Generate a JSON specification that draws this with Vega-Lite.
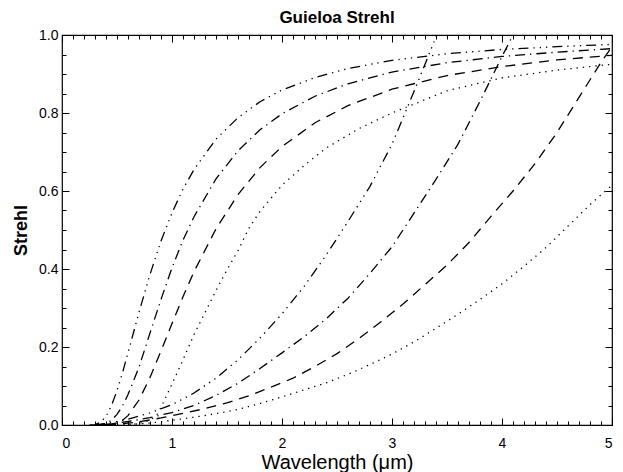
{
  "$schema": "https://vega.github.io/schema/vega-lite/v6.json",
  "width": 550,
  "height": 390,
  "autosize": {"type": "none"},
  "padding": {"left": 62, "top": 35, "right": 11, "bottom": 47},
  "background": "white",
  "title": {"text": "Guieloa Strehl", "font": "Liberation Sans", "fontSize": 17, "fontWeight": "bold", "color": "black", "offset": 1, "anchor": "middle"},
  "config": {"view": {"stroke": "black", "strokeWidth": 1.2}},
  "datasets": {
    "curves": [
      {"c":"A1","x":0.25,"y":0},{"c":"A1","x":0.3,"y":0.001},{"c":"A1","x":0.35,"y":0.007},{"c":"A1","x":0.4,"y":0.022},{"c":"A1","x":0.45,"y":0.05},{"c":"A1","x":0.5,"y":0.088},{"c":"A1","x":0.55,"y":0.134},{"c":"A1","x":0.6,"y":0.185},{"c":"A1","x":0.7,"y":0.289},{"c":"A1","x":0.8,"y":0.386},{"c":"A1","x":0.9,"y":0.472},{"c":"A1","x":1.0,"y":0.544},{"c":"A1","x":1.1,"y":0.605},{"c":"A1","x":1.2,"y":0.655},{"c":"A1","x":1.4,"y":0.733},{"c":"A1","x":1.6,"y":0.788},{"c":"A1","x":1.8,"y":0.829},{"c":"A1","x":2.0,"y":0.859},{"c":"A1","x":2.3,"y":0.891},{"c":"A1","x":2.6,"y":0.914},{"c":"A1","x":3.0,"y":0.935},{"c":"A1","x":3.5,"y":0.952},{"c":"A1","x":4.0,"y":0.963},{"c":"A1","x":4.5,"y":0.97},{"c":"A1","x":5.0,"y":0.976},
      {"c":"A2","x":0.3,"y":0},{"c":"A2","x":0.35,"y":0.001},{"c":"A2","x":0.4,"y":0.004},{"c":"A2","x":0.45,"y":0.012},{"c":"A2","x":0.5,"y":0.027},{"c":"A2","x":0.55,"y":0.049},{"c":"A2","x":0.6,"y":0.078},{"c":"A2","x":0.7,"y":0.148},{"c":"A2","x":0.8,"y":0.236},{"c":"A2","x":0.9,"y":0.322},{"c":"A2","x":1.0,"y":0.403},{"c":"A2","x":1.1,"y":0.474},{"c":"A2","x":1.2,"y":0.534},{"c":"A2","x":1.4,"y":0.631},{"c":"A2","x":1.6,"y":0.703},{"c":"A2","x":1.8,"y":0.757},{"c":"A2","x":2.0,"y":0.798},{"c":"A2","x":2.3,"y":0.843},{"c":"A2","x":2.6,"y":0.875},{"c":"A2","x":3.0,"y":0.905},{"c":"A2","x":3.5,"y":0.929},{"c":"A2","x":4.0,"y":0.945},{"c":"A2","x":4.5,"y":0.956},{"c":"A2","x":5.0,"y":0.965},
      {"c":"A3","x":0.4,"y":0},{"c":"A3","x":0.5,"y":0.005},{"c":"A3","x":0.55,"y":0.012},{"c":"A3","x":0.6,"y":0.024},{"c":"A3","x":0.7,"y":0.064},{"c":"A3","x":0.8,"y":0.122},{"c":"A3","x":0.9,"y":0.19},{"c":"A3","x":1.0,"y":0.26},{"c":"A3","x":1.1,"y":0.329},{"c":"A3","x":1.2,"y":0.393},{"c":"A3","x":1.4,"y":0.503},{"c":"A3","x":1.6,"y":0.591},{"c":"A3","x":1.8,"y":0.66},{"c":"A3","x":2.0,"y":0.714},{"c":"A3","x":2.3,"y":0.775},{"c":"A3","x":2.6,"y":0.819},{"c":"A3","x":3.0,"y":0.861},{"c":"A3","x":3.5,"y":0.896},{"c":"A3","x":4.0,"y":0.919},{"c":"A3","x":4.5,"y":0.936},{"c":"A3","x":5.0,"y":0.948},
      {"c":"A4","x":0.6,"y":0},{"c":"A4","x":0.7,"y":0.004},{"c":"A4","x":0.8,"y":0.012},{"c":"A4","x":0.86,"y":0.025},{"c":"A4","x":0.9,"y":0.045},{"c":"A4","x":1.0,"y":0.105},{"c":"A4","x":1.1,"y":0.167},{"c":"A4","x":1.2,"y":0.232},{"c":"A4","x":1.3,"y":0.288},{"c":"A4","x":1.4,"y":0.345},{"c":"A4","x":1.5,"y":0.398},{"c":"A4","x":1.6,"y":0.447},{"c":"A4","x":1.7,"y":0.505},{"c":"A4","x":1.8,"y":0.548},{"c":"A4","x":2.0,"y":0.615},{"c":"A4","x":2.2,"y":0.665},{"c":"A4","x":2.4,"y":0.71},{"c":"A4","x":2.7,"y":0.76},{"c":"A4","x":3.0,"y":0.8},{"c":"A4","x":3.5,"y":0.857},{"c":"A4","x":4.0,"y":0.89},{"c":"A4","x":4.5,"y":0.91},{"c":"A4","x":5.0,"y":0.925},
      {"c":"B1","x":0.3,"y":0},{"c":"B1","x":0.4,"y":0.004},{"c":"B1","x":0.5,"y":0.009},{"c":"B1","x":0.6,"y":0.015},{"c":"B1","x":0.8,"y":0.031},{"c":"B1","x":1.0,"y":0.052},{"c":"B1","x":1.2,"y":0.082},{"c":"B1","x":1.4,"y":0.12},{"c":"B1","x":1.6,"y":0.167},{"c":"B1","x":1.8,"y":0.223},{"c":"B1","x":2.0,"y":0.285},{"c":"B1","x":2.2,"y":0.355},{"c":"B1","x":2.4,"y":0.435},{"c":"B1","x":2.6,"y":0.522},{"c":"B1","x":2.8,"y":0.612},{"c":"B1","x":3.0,"y":0.72},{"c":"B1","x":3.2,"y":0.855},{"c":"B1","x":3.4,"y":0.995},{"c":"B1","x":3.5,"y":1.07},
      {"c":"B2","x":0.35,"y":0},{"c":"B2","x":0.45,"y":0.003},{"c":"B2","x":0.6,"y":0.009},{"c":"B2","x":0.8,"y":0.019},{"c":"B2","x":1.0,"y":0.032},{"c":"B2","x":1.2,"y":0.05},{"c":"B2","x":1.4,"y":0.076},{"c":"B2","x":1.6,"y":0.107},{"c":"B2","x":1.8,"y":0.145},{"c":"B2","x":2.0,"y":0.185},{"c":"B2","x":2.2,"y":0.226},{"c":"B2","x":2.4,"y":0.272},{"c":"B2","x":2.6,"y":0.325},{"c":"B2","x":2.8,"y":0.389},{"c":"B2","x":3.0,"y":0.457},{"c":"B2","x":3.2,"y":0.543},{"c":"B2","x":3.4,"y":0.63},{"c":"B2","x":3.6,"y":0.72},{"c":"B2","x":3.8,"y":0.83},{"c":"B2","x":4.0,"y":0.945},{"c":"B2","x":4.1,"y":1.0},{"c":"B2","x":4.2,"y":1.06},
      {"c":"B3","x":0.4,"y":0},{"c":"B3","x":0.5,"y":0.002},{"c":"B3","x":0.7,"y":0.008},{"c":"B3","x":0.9,"y":0.018},{"c":"B3","x":1.1,"y":0.03},{"c":"B3","x":1.3,"y":0.042},{"c":"B3","x":1.5,"y":0.057},{"c":"B3","x":1.7,"y":0.075},{"c":"B3","x":1.9,"y":0.097},{"c":"B3","x":2.1,"y":0.12},{"c":"B3","x":2.3,"y":0.15},{"c":"B3","x":2.5,"y":0.183},{"c":"B3","x":2.7,"y":0.222},{"c":"B3","x":2.9,"y":0.265},{"c":"B3","x":3.1,"y":0.31},{"c":"B3","x":3.3,"y":0.36},{"c":"B3","x":3.5,"y":0.41},{"c":"B3","x":3.7,"y":0.468},{"c":"B3","x":3.9,"y":0.535},{"c":"B3","x":4.1,"y":0.6},{"c":"B3","x":4.3,"y":0.67},{"c":"B3","x":4.5,"y":0.75},{"c":"B3","x":4.7,"y":0.84},{"c":"B3","x":4.9,"y":0.93},{"c":"B3","x":5.0,"y":0.97},
      {"c":"B4","x":0.5,"y":0},{"c":"B4","x":0.6,"y":0.001},{"c":"B4","x":0.8,"y":0.005},{"c":"B4","x":1.0,"y":0.012},{"c":"B4","x":1.2,"y":0.02},{"c":"B4","x":1.4,"y":0.029},{"c":"B4","x":1.6,"y":0.04},{"c":"B4","x":1.8,"y":0.055},{"c":"B4","x":2.0,"y":0.072},{"c":"B4","x":2.2,"y":0.09},{"c":"B4","x":2.4,"y":0.108},{"c":"B4","x":2.6,"y":0.13},{"c":"B4","x":2.8,"y":0.155},{"c":"B4","x":3.0,"y":0.182},{"c":"B4","x":3.2,"y":0.213},{"c":"B4","x":3.4,"y":0.248},{"c":"B4","x":3.6,"y":0.284},{"c":"B4","x":3.8,"y":0.322},{"c":"B4","x":4.0,"y":0.362},{"c":"B4","x":4.2,"y":0.407},{"c":"B4","x":4.4,"y":0.455},{"c":"B4","x":4.6,"y":0.51},{"c":"B4","x":4.8,"y":0.565},{"c":"B4","x":5.0,"y":0.615}
    ]
  },
  "data": {"name": "curves"},
  "resolve": {"axis": {"x": "independent", "y": "independent"}},
  "layer": [
    {
      "mark": {"type": "line", "clip": true, "color": "black", "strokeWidth": 1.3, "strokeCap": "butt"},
      "encoding": {
        "x": {"field": "x", "type": "quantitative", "scale": {"domain": [0, 5], "nice": false, "zero": false},
          "axis": {"orient": "bottom", "values": [0, 1, 2, 3, 4, 5], "format": "d", "tickSize": -7, "tickColor": "black", "tickWidth": 1, "labelPadding": 18, "domain": false, "grid": false,
            "labelFont": "Liberation Sans", "labelFontSize": 14, "labelColor": "black",
            "title": "Wavelength (μm)", "titleFont": "Liberation Sans", "titleFontSize": 20, "titleFontWeight": "normal", "titleColor": "black", "titlePadding": 2}},
        "y": {"field": "y", "type": "quantitative", "scale": {"domain": [0, 1], "nice": false, "zero": false},
          "axis": {"orient": "left", "values": [0, 0.2, 0.4, 0.6, 0.8, 1.0], "format": ".1f", "tickSize": -7, "tickColor": "black", "tickWidth": 1, "labelPadding": 11, "domain": false, "grid": false,
            "labelFont": "Liberation Sans", "labelFontSize": 14, "labelColor": "black",
            "title": "Strehl", "titleFont": "Liberation Sans", "titleFontSize": 18, "titleFontWeight": "bold", "titleColor": "black", "titlePadding": 8}},
        "strokeDash": {"field": "c", "type": "nominal", "legend": null,
          "scale": {"domain": ["A1", "A2", "A3", "A4", "B1", "B2", "B3", "B4"],
            "range": [[10, 5, 1.3, 5, 1.3, 5, 1.3, 5], [10, 5, 1.3, 5], [10, 7], [1.3, 5], [10, 5, 1.3, 5, 1.3, 5, 1.3, 5], [10, 5, 1.3, 5], [10, 7], [1.3, 5]]}}
      }
    },
    {
      "mark": {"type": "point", "opacity": 0, "clip": true},
      "encoding": {
        "x": {"field": "x", "type": "quantitative", "axis": {"orient": "bottom", "values": [0,0.1,0.2,0.3,0.4,0.5,0.6,0.7,0.8,0.9,1,1.1,1.2,1.3,1.4,1.5,1.6,1.7,1.8,1.9,2,2.1,2.2,2.3,2.4,2.5,2.6,2.7,2.8,2.9,3,3.1,3.2,3.3,3.4,3.5,3.6,3.7,3.8,3.9,4,4.1,4.2,4.3,4.4,4.5,4.6,4.7,4.8,4.9,5], "tickSize": -4, "tickColor": "black", "tickWidth": 1, "labels": false, "domain": false, "grid": false, "title": null}},
        "y": {"field": "y", "type": "quantitative", "axis": {"orient": "left", "values": [0,0.05,0.1,0.15,0.2,0.25,0.3,0.35,0.4,0.45,0.5,0.55,0.6,0.65,0.7,0.75,0.8,0.85,0.9,0.95,1], "tickSize": -4, "tickColor": "black", "tickWidth": 1, "labels": false, "domain": false, "grid": false, "title": null}}
      }
    },
    {
      "mark": {"type": "point", "opacity": 0, "clip": true},
      "encoding": {
        "x": {"field": "x", "type": "quantitative", "axis": {"orient": "top", "values": [0, 1, 2, 3, 4, 5], "tickSize": -7, "tickColor": "black", "tickWidth": 1, "labels": false, "domain": false, "grid": false, "title": null}},
        "y": {"field": "y", "type": "quantitative", "axis": {"orient": "right", "values": [0, 0.2, 0.4, 0.6, 0.8, 1.0], "tickSize": -7, "tickColor": "black", "tickWidth": 1, "labels": false, "domain": false, "grid": false, "title": null}}
      }
    },
    {
      "mark": {"type": "point", "opacity": 0, "clip": true},
      "encoding": {
        "x": {"field": "x", "type": "quantitative", "axis": {"orient": "top", "values": [0,0.1,0.2,0.3,0.4,0.5,0.6,0.7,0.8,0.9,1,1.1,1.2,1.3,1.4,1.5,1.6,1.7,1.8,1.9,2,2.1,2.2,2.3,2.4,2.5,2.6,2.7,2.8,2.9,3,3.1,3.2,3.3,3.4,3.5,3.6,3.7,3.8,3.9,4,4.1,4.2,4.3,4.4,4.5,4.6,4.7,4.8,4.9,5], "tickSize": -4, "tickColor": "black", "tickWidth": 1, "labels": false, "domain": false, "grid": false, "title": null}},
        "y": {"field": "y", "type": "quantitative", "axis": {"orient": "right", "values": [0,0.05,0.1,0.15,0.2,0.25,0.3,0.35,0.4,0.45,0.5,0.55,0.6,0.65,0.7,0.75,0.8,0.85,0.9,0.95,1], "tickSize": -4, "tickColor": "black", "tickWidth": 1, "labels": false, "domain": false, "grid": false, "title": null}}
      }
    }
  ]
}
